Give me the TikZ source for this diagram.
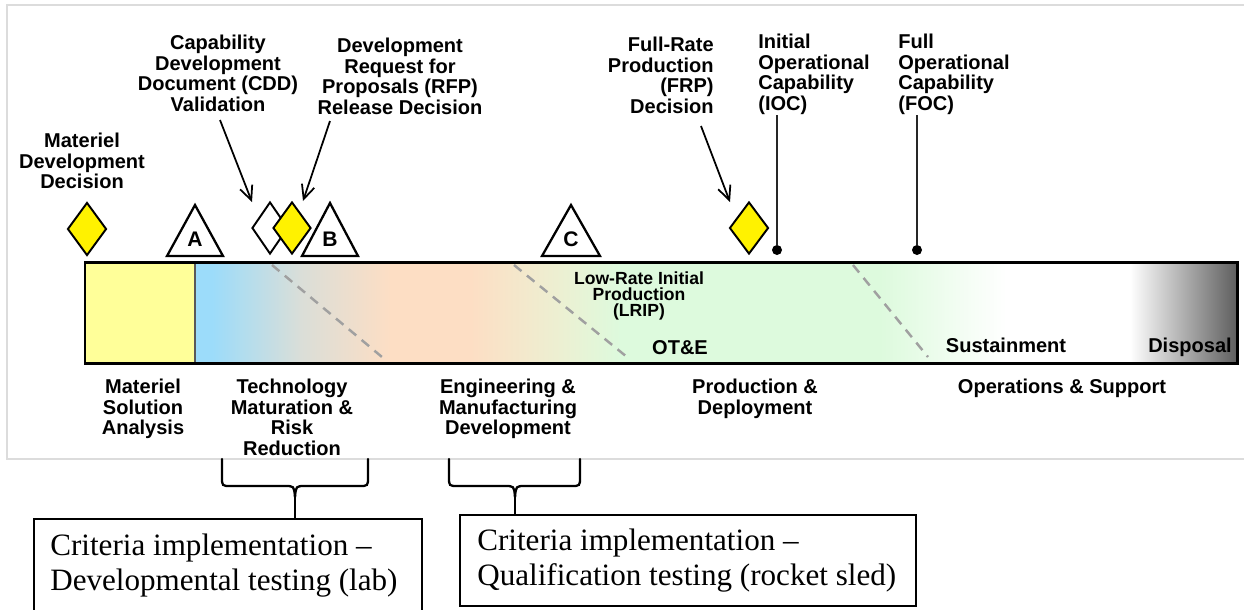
\documentclass[tikz,border=0pt]{standalone}
\usepackage{fontspec}
\setmainfont{Liberation Serif}
\newfontfamily\arialf{Liberation Sans}
\usetikzlibrary{shapes.geometric,arrows.meta}
\definecolor{framegray}{HTML}{DCDCDC}
\definecolor{barblue}{HTML}{9CDCFA}
\definecolor{bargray}{HTML}{DADED8}
\definecolor{barpeach}{HTML}{FDDEC4}
\definecolor{baryg}{HTML}{ECF0D2}
\definecolor{bargreen}{HTML}{DDFADD}
\definecolor{bardark}{HTML}{5E5E5E}
\definecolor{baryellow}{HTML}{FFFF99}
\definecolor{dashgray}{HTML}{A0A0A0}
\begin{document}
\begin{tikzpicture}[x=0.02cm,y=-0.02cm,
  lbl/.style={font=\fontsize{11.4}{11.7}\selectfont\arialf\bfseries, inner sep=0pt, align=center},
  lrip/.style={font=\fontsize{10}{9.2}\selectfont\arialf\bfseries, inner sep=0pt, align=center},
  letter/.style={font=\fontsize{12}{12}\selectfont\arialf\bfseries, inner sep=0pt},
  boxtxt/.style={font=\fontsize{17.7}{19.85}\selectfont, inner sep=0pt, align=left},
  boxst/.style={draw, line width=0.9pt, inner sep=0pt, fill=white},
  diam/.style={diamond, draw, line width=1.1pt, inner sep=0pt, fill=yellow},
  tri/.style={draw, line width=1.3pt, fill=white, line join=miter},
  arr/.style={line width=1pt, -{Straight Barb[length=2.8mm,width=2.6mm,line width=1pt]}},
  pinline/.style={line width=1.2pt, draw=black!85},
  dotst/.style={circle, fill=black, inner sep=0pt, minimum size=0.2cm},
  bracest/.style={line width=1.3pt, line cap=round},
  dsh/.style={draw=dashgray, line width=1.4pt, dash pattern=on 5.5pt off 4pt}
]
\useasboundingbox (0,0) rectangle (1244,609);
\clip (0,0) rectangle (1244,609);
\fill[white] (0,0) rectangle (1244,609);
% frame
\draw[framegray, line width=0.9pt] (1250,5) -- (7,5) -- (7,459) -- (1250,459);

% bar fills
\fill[baryellow] (85,262) rectangle (195,363);
\fill[barblue] (195,262) rectangle (213,363);
\shade[left color=barblue, right color=bargray] (212,262) rectangle (301,363);
\shade[left color=bargray, right color=barpeach] (300,262) rectangle (391,363);
\fill[barpeach] (390,262) rectangle (471,363);
\shade[left color=barpeach, right color=baryg] (470,262) rectangle (561,363);
\shade[left color=baryg, right color=bargreen] (560,262) rectangle (621,363);
\fill[bargreen] (620,262) rectangle (881,363);
\shade[left color=bargreen, right color=white] (880,262) rectangle (1006,363);
\fill[white] (1005,262) rectangle (1131,363);
\shade[left color=white, right color=bardark] (1130,262) rectangle (1237,363);
\draw[black!65, line width=1.2pt] (195,262) -- (195,363);
% dashed phase lines
\draw[dsh] (272,265) -- (382,357);
\draw[dsh] (514,265) -- (627,357);
\draw[dsh] (853,265) -- (928,357);
% bar outline
\draw[line width=1.7pt] (85,262) rectangle (1237,363);

% texts inside bar
\node[lrip, anchor=north] (lripl) at (639,271) {Low-Rate Initial\\Production\\(LRIP)};
\node[lbl, anchor=base] (ote) at (680,354) {OT\&E};
\node[lbl, anchor=base] (sust) at (1006,352) {Sustainment};
\node[lbl, anchor=base] (disp) at (1190,352) {Disposal};

% milestones
\node[diam, minimum width=0.78cm, minimum height=1.06cm] (mdd) at (87,229) {};
\draw[tri] (167,256) -- (195,205) -- (223,256) -- cycle;
\node[letter] (la) at (195,239) {A};
\node[diam, fill=white, minimum width=0.72cm, minimum height=1.04cm] (cddd) at (270,228) {};
\node[diam, minimum width=0.76cm, minimum height=1.04cm] (rfpd) at (292,228) {};
\draw[tri] (302,256) -- (330,203) -- (358,256) -- cycle;
\node[letter] (lb) at (330,239) {B};
\draw[tri] (542,256) -- (571,205) -- (600,256) -- cycle;
\node[letter] (lc) at (571,239) {C};
\node[diam, minimum width=0.78cm, minimum height=1.04cm] (frpd) at (749,228) {};
\node[dotst] (iocdot) at (777,250) {};
\node[dotst] (focdot) at (917,250) {};
\coordinate (ioctop) at (777,115);
\coordinate (foctop) at (917,115);
\draw[pinline] (ioctop) -- (iocdot);
\draw[pinline] (foctop) -- (focdot);

% top labels
\node[lbl, anchor=north] (mddl) at (82,133) {Materiel\\Development\\Decision};
\node[lbl, anchor=north] (cddl) at (218,35) {Capability\\Development\\Document (CDD)\\Validation};
\node[lbl, anchor=north] (rfpl) at (400,38) {Development\\Request for\\Proposals (RFP)\\Release Decision};
\node[lbl, anchor=north east, align=right] (frpl) at (714,37) {Full-Rate\\Production\\(FRP)\\Decision};
\node[lbl, anchor=north west, align=left] (iocl) at (758,34) {Initial\\Operational\\Capability\\(IOC)};
\node[lbl, anchor=north west, align=left] (focl) at (898,34) {Full\\Operational\\Capability\\(FOC)};

% arrows
\coordinate (cddA) at (220,120);
\coordinate (cddB) at (252,202);
\coordinate (rfpA) at (330,121);
\coordinate (rfpB) at (303,201);
\coordinate (frpA) at (701,126);
\coordinate (frpB) at (730,202);
\draw[arr] (cddA) -- (cddB);
\draw[arr] (rfpA) -- (rfpB);
\draw[arr] (frpA) -- (frpB);

% phase labels
\node[lbl, anchor=north] (msa) at (143,379) {Materiel\\Solution\\Analysis};
\node[lbl, anchor=north] (tmrr) at (292,379) {Technology\\Maturation \&\\Risk\\Reduction};
\node[lbl, anchor=north] (emd) at (508,379) {Engineering \&\\Manufacturing\\Development};
\node[lbl, anchor=north] (pd) at (755,379) {Production \&\\Deployment};
\node[lbl, anchor=north] (os) at (1062,379) {Operations \& Support};

% boxes
\node[boxst, anchor=north west, minimum width=7.76cm, minimum height=2.5cm] (box1) at (33,518) {};
\node[boxst, anchor=north west, minimum width=9.12cm, minimum height=1.82cm] (box2) at (459,514) {};
\node[boxtxt, anchor=north west] (t1) at (50,534) {Criteria implementation –\\Developmental testing (lab)};
\node[boxtxt, anchor=north west] (t2) at (477,529) {Criteria implementation –\\Qualification testing (rocket sled)};

% braces
\coordinate (br1) at (295,497);
\draw[bracest] (222,459) -- (222,477) .. controls (222,486) .. (231,486) -- (285,486) .. controls (294,486) .. (br1);
\draw[bracest] (368,459) -- (368,477) .. controls (368,486) .. (359,486) -- (305,486) .. controls (296,486) .. (br1);
\draw[bracest] (br1) -- (br1 |- box1.north);
\coordinate (br2) at (515,497);
\draw[bracest] (449,459) -- (449,477) .. controls (449,486) .. (458,486) -- (505,486) .. controls (514,486) .. (br2);
\draw[bracest] (580,459) -- (580,477) .. controls (580,486) .. (571,486) -- (525,486) .. controls (516,486) .. (br2);
\draw[bracest] (br2) -- (br2 |- box2.north);
\end{tikzpicture}
\end{document}
